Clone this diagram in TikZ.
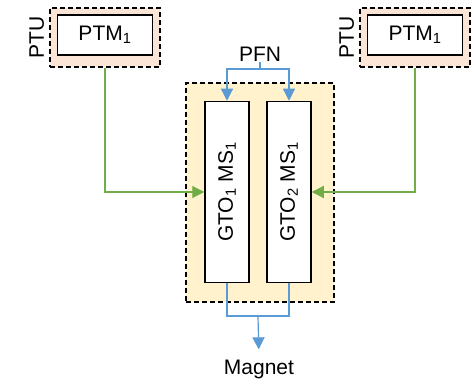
\documentclass[tikz,border=0pt]{standalone}
\usepackage{fontspec}
\setmainfont{Liberation Sans}
\usetikzlibrary{positioning,arrows.meta}
\definecolor{ptufill}{HTML}{FBE5D6}
\definecolor{casefill}{HTML}{FFF2CC}
\definecolor{trig}{HTML}{70AD47}
\definecolor{pwr}{HTML}{5B9BD5}

\begin{document}
\begin{tikzpicture}[
  x=1pt, y=-1pt, font=\fontsize{21}{25}\selectfont,
  unit/.style={draw, line width=1.4pt, dash pattern=on 5pt off 3pt, inner sep=0pt},
  ptu/.style={unit, fill=ptufill, minimum width=110pt, minimum height=59pt},
  case/.style={unit, fill=casefill, minimum width=148pt, minimum height=219pt},
  mod/.style={draw, line width=1.5pt, fill=white, inner sep=0pt},
  ptm/.style={mod, minimum width=95pt, minimum height=40pt},
  gto/.style={mod, minimum width=44pt, minimum height=181pt},
  lbl/.style={inner sep=0pt},
  feed/.style={trig, line width=1.2pt, -{Triangle[length=12pt,width=12pt]}},
  bus/.style={pwr, line width=1.2pt},
  busarrow/.style={bus, -{Triangle[length=12pt,width=12pt]}},
]
\useasboundingbox (0,0) rectangle (472,379);
% --- trigger units ---
\node[ptu] (ptuL) at (105,37.5) {};
\node[ptm] (ptmL) at (105,35) {PTM\textsubscript{1}};
\node[lbl, rotate=90, anchor=south, inner sep=5pt] at (ptuL.west) {PTU};
\node[ptu] (ptuR) at (415,37.5) {};
\node[ptm] (ptmR) at (415,35) {PTM\textsubscript{1}};
\node[lbl, rotate=90, anchor=south, inner sep=5pt] at (ptuR.west) {PTU};
% --- switch assembly ---
\node[case] (cs) at (260,192.5) {};
\node[gto] (gtoA) at (227,192) {\rotatebox{90}{GTO\textsubscript{1} MS\textsubscript{1}}};
\node[gto] (gtoB) at (289,192) {\rotatebox{90}{GTO\textsubscript{2} MS\textsubscript{1}}};
% --- supply and load ---
\node[lbl, anchor=base] (pfn) at (260,62) {PFN};
\node[lbl, anchor=base] (mag) at (259,375) {Magnet};
\coordinate (split) at (260,69);
\coordinate (join) at (258,316);
% --- connectors ---
\draw[feed] (ptuL.south) |- (gtoA.west);
\draw[feed] (ptuR.south) |- (gtoB.east);
\draw[bus] (pfn.south) -- (split);
\draw[busarrow] (split) -| (gtoA.north);
\draw[busarrow] (split) -| (gtoB.north);
\draw[bus] (gtoA.south) |- (join) -| (gtoB.south);
\draw[busarrow, shorten >=11pt] (join) -- (mag.north);
\end{tikzpicture}
\end{document}
